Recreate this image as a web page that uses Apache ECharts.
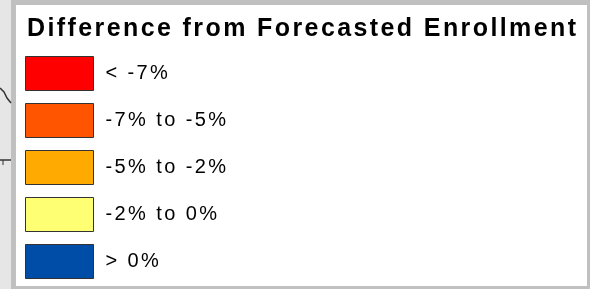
<!DOCTYPE html>
<html>
<head>
<meta charset="utf-8">
<script src="https://cdn.jsdelivr.net/npm/echarts@6/dist/echarts.min.js"></script>
<style>
  html, body { margin: 0; padding: 0; background: #c0c0c0; }
  #chart { width: 590px; height: 289px; }
</style>
</head>
<body>
<div id="chart"></div>
<script>
// legend classes, top to bottom
var titleText = 'Difference from Forecasted Enrollment';
var classLabels = ['< -7%', '-7% to -5%', '-5% to -2%', '-2% to 0%', '> 0%'];
var classColors = ['#ff0000', '#ff5500', '#ffaa00', '#ffff73', '#004da8'];

var chart = echarts.init(document.getElementById('chart'));

var series = classLabels.map(function (name, i) {
    return {
        name: name,
        type: 'bar',
        data: [],
        itemStyle: { color: classColors[i], borderColor: '#333', borderWidth: 1 }
    };
});

var option = {
    animation: false,
    backgroundColor: '#c0c0c0',
    title: {
        text: titleText,
        left: 22,
        top: 12,
        textStyle: {
            fontFamily: 'Liberation Sans, Arial, sans-serif',
            fontWeight: 'bold',
            fontSize: 25,
            color: '#000'
        }
    },
    legend: {
        orient: 'vertical',
        left: 20,
        top: 51,
        icon: 'rect',
        itemWidth: 68,
        itemHeight: 34,
        itemGap: 12,
        selectedMode: false,
        itemStyle: { borderColor: '#333', borderWidth: 1 },
        textStyle: {
            fontFamily: 'Liberation Sans, Arial, sans-serif',
            fontSize: 20,
            color: '#000',
            padding: [0, 0, 0, 7]
        },
        data: classLabels
    },
    grid: { show: false, left: 0, right: 0, top: 0, bottom: 0 },
    xAxis: { type: 'category', show: false, data: [] },
    yAxis: { type: 'value', show: false },
    graphic: [
        // left strip of map showing behind the legend box
        { type: 'rect', shape: { x: 0, y: 0, width: 11, height: 289 }, style: { fill: '#e6e6e6' }, z: -10 },
        { type: 'rect', shape: { x: 16, y: 5, width: 571, height: 281 }, style: { fill: '#ffffff' }, z: -10 },
        { type: 'polyline', shape: { points: [[0, 88], [4, 92], [7, 98], [11, 103]] }, style: { stroke: '#333', lineWidth: 1.5, fill: null } },
        { type: 'polyline', shape: { points: [[0, 160], [11, 160]] }, style: { stroke: '#333', lineWidth: 1.5, fill: null } },
        { type: 'polyline', shape: { points: [[3, 160], [3, 165]] }, style: { stroke: '#333', lineWidth: 1, fill: null } }
    ],
    series: series
};

chart.setOption(option);

// the original text is set wide (GDI style) - widen it, then redraw
var cv = document.querySelector('#chart canvas');
if (cv) {
    var ctx = cv.getContext('2d');
    if ('letterSpacing' in ctx) {
        ctx.letterSpacing = '2.4px';
        chart.setOption(option, true);
    }
}
</script>
</body>
</html>
